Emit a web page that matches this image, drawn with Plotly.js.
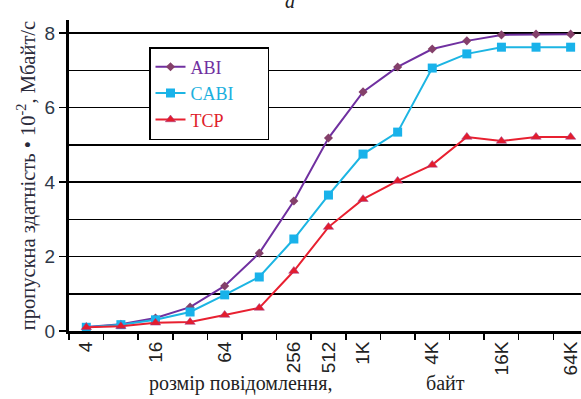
<!DOCTYPE html>
<html>
<head>
<meta charset="utf-8">
<script src="https://cdn.plot.ly/plotly-3.0.1.min.js"></script>
<style>html,body{margin:0;padding:0;background:#fff;}#chart{width:581px;height:399px;}</style>
</head>
<body>
<div id="chart"></div>
<script>
// Data (message size categories and throughput, x10^-2 MB/s)
var sizes = ['4','8','16','32','64','128','256','512','1K','2K','4K','8K','16K','32K','64K'];
var tickLabels = ['4','16','64','256','512','1K','4K','16K','64K'];
var abi  = [0.11,0.18,0.35,0.64,1.21,2.09,3.49,5.18,6.42,7.09,7.57,7.79,7.95,7.97,7.97];
var cabi = [0.10,0.17,0.30,0.51,0.97,1.45,2.47,3.65,4.75,5.34,7.06,7.44,7.62,7.62,7.62];
var tcp  = [0.10,0.13,0.22,0.24,0.43,0.62,1.61,2.79,3.54,4.03,4.46,5.21,5.10,5.21,5.21];

var idx = sizes.map(function(_, i){ return i; });
var labelIdx = tickLabels.map(function(t){ return sizes.indexOf(t); });
var pad = '\u00a0\u00a0\u00a0\u00a0\u00a0\u00a0';

var traces = [
  {x: idx, y: abi, name: '<span style="color:#7030a0">ABI</span>' + pad + '\u00a0\u00a0\u00a0', mode: 'lines+markers',
   line: {color: '#7030a0', width: 2}, marker: {symbol: 'diamond', size: 7, color: '#84406a'}},
  {x: idx, y: cabi, name: '<span style="color:#1cb0de">CABI</span>' + pad, mode: 'lines+markers',
   line: {color: '#1cb5e3', width: 2}, marker: {symbol: 'square', size: 9, color: '#19b2ea'}},
  {x: idx, y: tcp, name: '<span style="color:#e0202a">TCP</span>' + pad + '\u00a0\u00a0', mode: 'lines+markers',
   line: {color: '#e82030', width: 2}, marker: {symbol: 'triangle-up', size: 9, color: '#e41c2c', line: {color: '#9a3a8a', width: 0.5}}}
];

var L = 69, R = 581, T = 20, B = 331;
function px(x){ return (x - L) / (R - L); }
function py(y){ return (B - y) / (B - T); }

var layout = {
  width: 581, height: 399,
  margin: {l: 69, r: 0, t: 20, b: 68},
  paper_bgcolor: '#fff', plot_bgcolor: '#fff',
  showlegend: true,
  legend: {x: px(149), y: py(47), xanchor: 'left', yanchor: 'top',
           bgcolor: '#fff', bordercolor: '#000', borderwidth: 1.5,
           font: {family: 'Liberation Serif, Times New Roman, serif', size: 18, color: '#333'},
           itemwidth: 30, tracegroupgap: 0},
  xaxis: {range: [-0.5, 14.3], tickmode: 'array', tickvals: labelIdx, ticktext: tickLabels,
          ticks: '', tickangle: -90, showgrid: false, zeroline: false,
          showline: true, linecolor: '#000', linewidth: 3,
          tickfont: {family: 'Liberation Sans, Arial, sans-serif', size: 19, color: '#222'},
          minor: {tick0: -0.5, dtick: 1, ticks: 'outside', ticklen: 6, tickwidth: 1.5, tickcolor: '#000', showgrid: false},
          fixedrange: true},
  yaxis: {range: [0, 8.35], tickmode: 'linear', tick0: 0, dtick: 2,
          ticks: 'outside', ticklen: 7, tickwidth: 1.5, tickcolor: '#000',
          showgrid: true, gridcolor: '#000', gridwidth: 1.5, zeroline: false,
          showline: true, linecolor: '#000', linewidth: 3,
          tickfont: {family: 'Liberation Sans, Arial, sans-serif', size: 19, color: '#2e3848'},
          minor: {dtick: 1, showgrid: true, gridcolor: '#000', gridwidth: 1.5, ticks: ''},
          title: {text: 'пропускна здатність • 10<sup>-2</sup>, Мбайт/с',
                  font: {family: 'Liberation Serif, Times New Roman, serif', size: 20.5, color: '#2a2a3a'},
                  standoff: 4},
          fixedrange: true},
  annotations: [
    {xref: 'paper', yref: 'paper', x: px(147), y: py(383), xanchor: 'left', yanchor: 'middle',
     text: 'розмір повідомлення,', showarrow: false,
     font: {family: 'Liberation Serif, Times New Roman, serif', size: 20, color: '#222'}},
    {xref: 'paper', yref: 'paper', x: px(424), y: py(383), xanchor: 'left', yanchor: 'middle',
     text: 'байт', showarrow: false,
     font: {family: 'Liberation Serif, Times New Roman, serif', size: 20, color: '#222'}},
    {xref: 'paper', yref: 'paper', x: px(290), y: py(14), xanchor: 'center', yanchor: 'bottom',
     text: '<i>а</i>', showarrow: false,
     font: {family: 'Liberation Serif, Times New Roman, serif', size: 20, color: '#222'}}
  ]
};

Plotly.newPlot('chart', traces, layout, {displayModeBar: false, staticPlot: true});
</script>
</body>
</html>
